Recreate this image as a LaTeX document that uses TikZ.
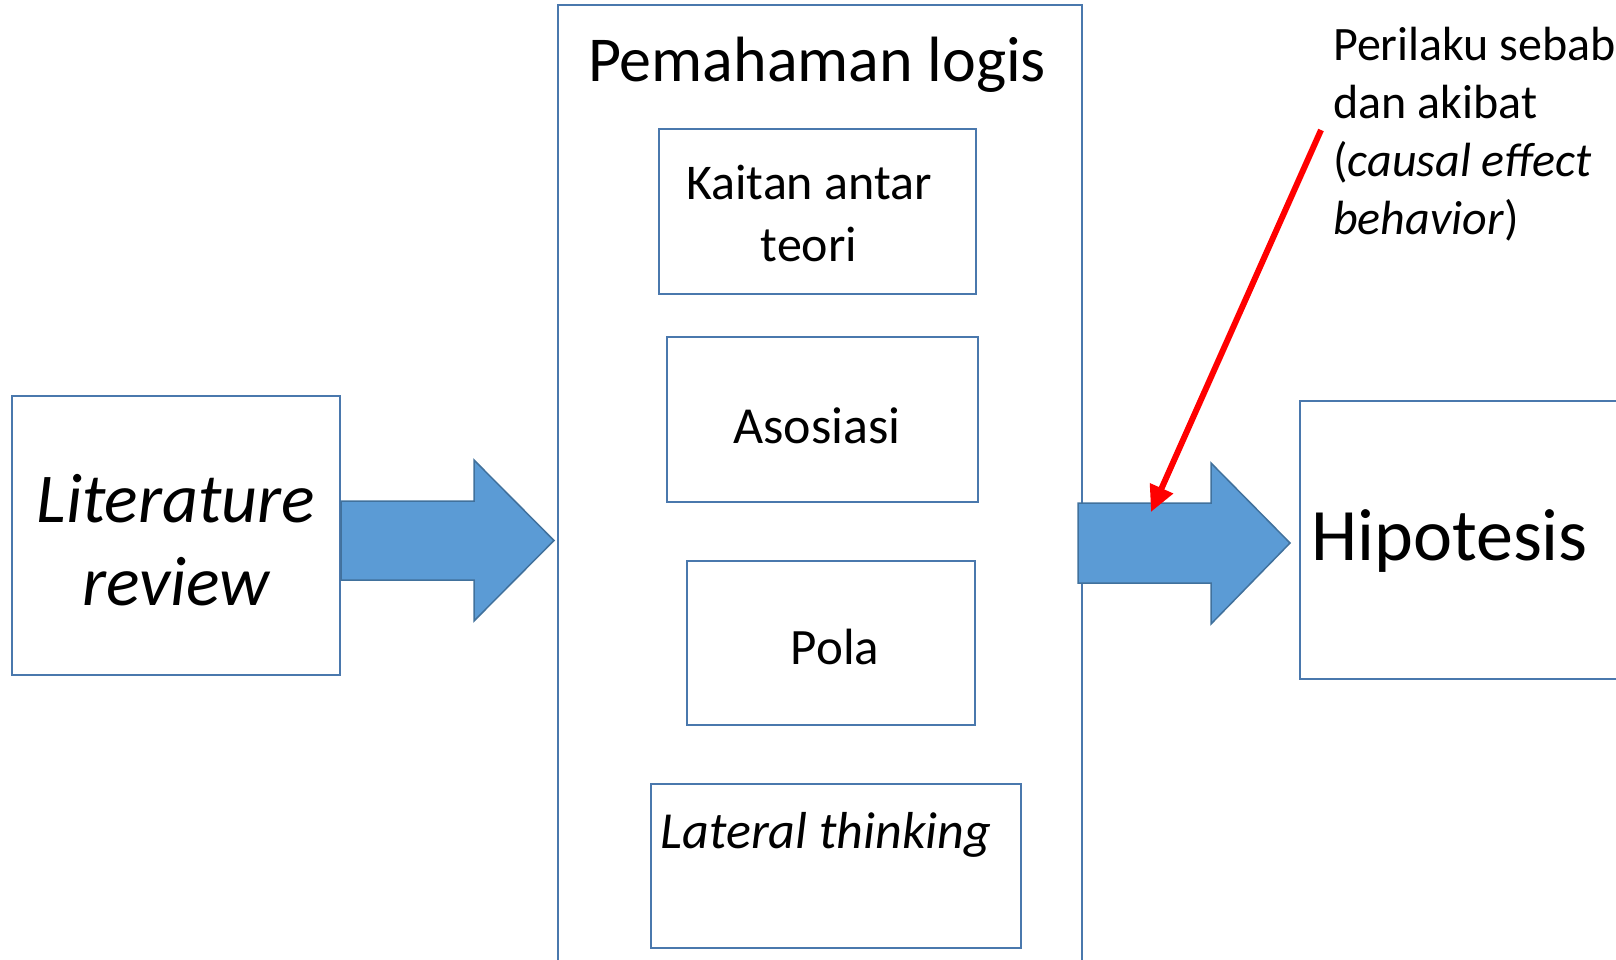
\documentclass[tikz,border=0pt]{standalone}
\usepackage{fontspec}
\setmainfont{Carlito}
\usetikzlibrary{arrows.meta}
\definecolor{boxline}{HTML}{4A78AD}
\definecolor{arrowfill}{HTML}{5B9BD5}
\definecolor{arrowline}{HTML}{41719C}
\tikzset{
  box/.style={draw=boxline, line width=2pt, inner sep=0pt, align=center},
  blockarrow/.style={draw=arrowline, fill=arrowfill, line width=1.5pt, line join=miter},
  redarrow/.style={draw=red, line width=6pt, -{Triangle[length=26pt,width=24pt]}},
}
\begin{document}
\begin{tikzpicture}[x=1pt,y=-1pt]
\useasboundingbox (0,0) rectangle (1616,960);
\clip (0,0) rectangle (1616,960);
% left side
\node[box, minimum width=328pt, minimum height=279pt] (lit) at (176,535.5) {};
\node[font=\fontsize{70}{83}\selectfont\itshape, align=center] (littext) at (176,540) {Literature\\review};
% middle column
\draw[boxline, line width=2pt] (558,5) rectangle (1082,980);
\coordinate (logisleft) at (554,540.5);
\coordinate (logisright) at (1078,543);
\node[font=\fontsize{64}{70}\selectfont] (logis) at (817,65) {Pemahaman logis};
\node[box, minimum width=317pt, minimum height=165pt] (kaitan) at (817.5,211.5) {};
\node[font=\fontsize{50}{62}\selectfont, align=center] (kaitantext) at (809,213) {Kaitan antar\\teori};
\node[box, minimum width=311pt, minimum height=165pt] (asosiasi) at (822.5,419.5) {};
\node[font=\fontsize{52}{60}\selectfont] (asosiasitext) at (817,426) {Asosiasi};
\node[box, minimum width=288pt, minimum height=164pt] (pola) at (831,643) {};
\node[font=\fontsize{51}{60}\selectfont] (polatext) at (835,647) {Pola};
\node[box, minimum width=370pt, minimum height=164pt] (lateral) at (836,866) {};
\node[font=\fontsize{52}{60}\selectfont\itshape] (lateraltext) at (826,835) {Lateral thinking};
% right side
\node[box, minimum width=340pt, minimum height=278pt] (hipo) at (1470,540) {};
\node[font=\fontsize{74}{80}\selectfont, anchor=west, inner sep=0pt] (hipotext) at (1311,541) {Hipotesis};
% block arrows
\draw[blockarrow] (lit.east |- 0,501) -- (474,501) -- (474,460) -- (logisleft)
  -- (474,621) -- (474,580) -- (lit.east |- 0,580) -- cycle;
\draw[blockarrow] (logisright |- 0,503) -- (1211,503) -- (1211,463) -- ([xshift=-9pt]hipo.west |- logisright)
  -- (1211,624) -- (1211,583) -- (logisright |- 0,583) -- cycle;
% annotation
\node[font=\fontsize{48}{58}\selectfont, align=left, anchor=north west, inner sep=0pt] (causal) at (1333,27)
  {Perilaku sebab\\dan akibat\\(\textit{causal effect}\\\textit{behavior})};
\coordinate (redstart) at (1321,130);
\coordinate (redend) at (1151,512);
\draw[redarrow] (redstart) -- (redend);
\end{tikzpicture}
\end{document}
